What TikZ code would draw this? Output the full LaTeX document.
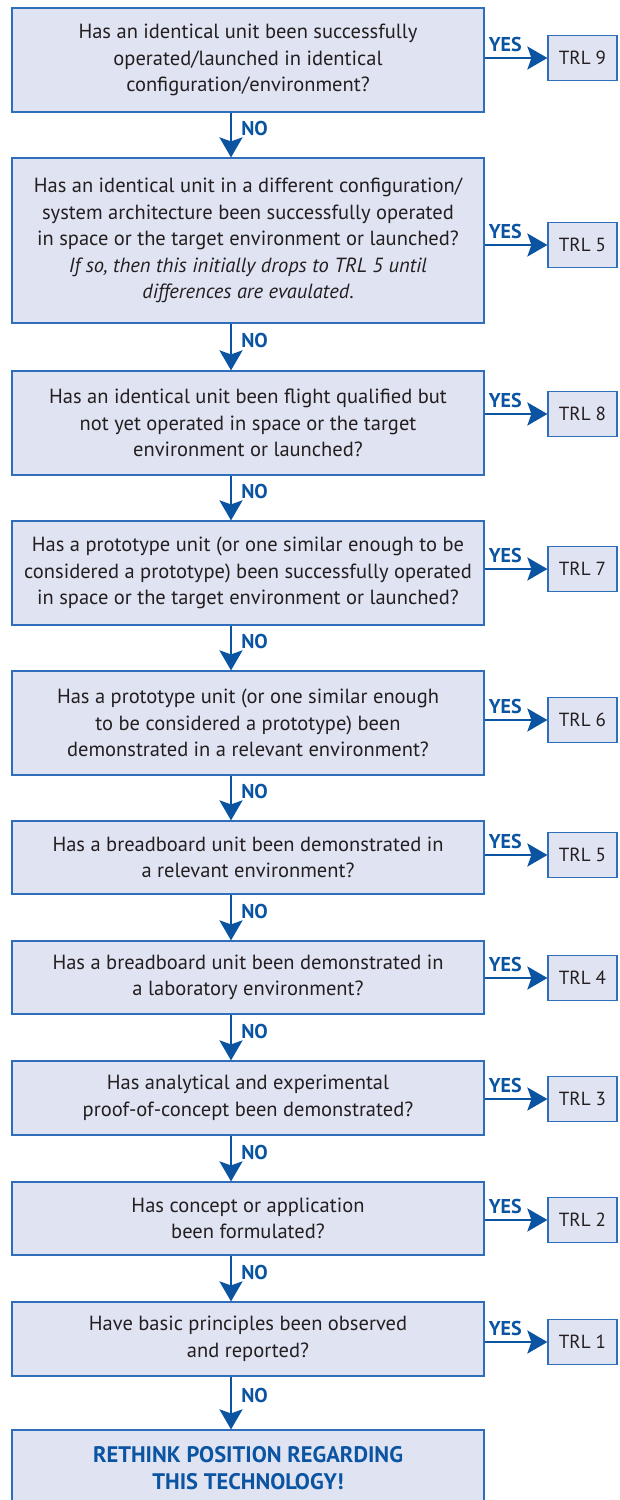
\documentclass[tikz,border=0pt]{standalone}
\usepackage{fontspec}
\setmainfont{PT Sans}
\usepackage{tikz}
\usetikzlibrary{arrows.meta, positioning}
\definecolor{boxfill}{RGB}{224,227,242}
\definecolor{boxline}{RGB}{46,110,186}
\definecolor{flowblue}{RGB}{10,84,162}
\definecolor{textgray}{RGB}{35,31,32}

\tikzset{
  question/.style={draw=boxline, line width=1.2pt, fill=boxfill, minimum width=472pt, align=center, text=textgray, inner sep=0pt, font=\fontsize{20.5}{26.5}\selectfont},
  trlbox/.style={draw=boxline, line width=1.2pt, fill=boxfill, minimum width=69pt, minimum height=45pt, text=textgray, inner sep=0pt, font=\fontsize{19}{20}\selectfont},
  flow/.style={draw=flowblue, line width=2.5pt, -{Stealth[length=20pt, width=23pt, inset=4pt]}},
  answer/.style={text=flowblue, inner sep=0pt, font=\fontsize{20}{20}\selectfont\bfseries},
}

\begin{document}
\begin{tikzpicture}[x=1pt, y=-1pt]
  \useasboundingbox (0,0) rectangle (619,1500);

  % question boxes
  \node[question, minimum height=104pt] (q1) at (248,60) {Has an identical unit been successfully\\operated/launched in identical\\configuration/environment?};
  \node[question, minimum height=165pt] (q2) at (248,240.5) {Has an identical unit in a different configuration/\\system architecture been successfully operated\\in space or the target environment or launched?\\\textit{If so, then this initially drops to TRL 5 until}\\\textit{differences are evaulated}.};
  \node[question, minimum height=104pt] (q3) at (248,423) {Has an identical unit been flight qualified but\\not yet operated in space or the target\\environment or launched?};
  \node[question, minimum height=104pt] (q4) at (248,573) {Has a prototype unit (or one similar enough to be\\considered a prototype) been successfully operated\\in space or the target environment or launched?};
  \node[question, minimum height=104pt] (q5) at (248,723) {Has a prototype unit (or one similar enough\\to be considered a prototype) been\\demonstrated in a relevant environment?};
  \node[question, minimum height=73pt] (q6) at (248,857.5) {Has a breadboard unit been demonstrated in\\a relevant environment?};
  \node[question, minimum height=73pt] (q7) at (248,977.5) {Has a breadboard unit been demonstrated in\\a laboratory environment?};
  \node[question, minimum height=74pt] (q8) at (248,1098) {Has analytical and experimental\\proof-of-concept been demonstrated?};
  \node[question, minimum height=73pt] (q9) at (248,1218.5) {Has concept or application\\been formulated?};
  \node[question, minimum height=74pt] (q10) at (248,1339) {Have basic principles been observed\\and reported?};
  \node[question, minimum height=76pt, text=flowblue, font=\fontsize{22.5}{26.5}\selectfont\bfseries] (rethink) at (248,1468) {RETHINK POSITION REGARDING\\THIS TECHNOLOGY!};

  % TRL boxes
  \node[trlbox] (trl9) at (582.5,58) {TRL 9};
  \node[trlbox] (trl5a) at (582.5,245) {TRL 5};
  \node[trlbox] (trl8) at (582.5,414) {TRL 8};
  \node[trlbox] (trl7) at (582.5,569) {TRL 7};
  \node[trlbox] (trl6) at (582.5,720) {TRL 6};
  \node[trlbox] (trl5b) at (582.5,855) {TRL 5};
  \node[trlbox] (trl4) at (582.5,978) {TRL 4};
  \node[trlbox] (trl3) at (582.5,1099) {TRL 3};
  \node[trlbox] (trl2) at (582.5,1220) {TRL 2};
  \node[trlbox] (trl1) at (582.5,1342) {TRL 1};

  % YES arrows
  \draw[flow] (q1.east |- trl9) -- node[answer, pos=0.33, above=5pt] {YES} (trl9.west);
  \draw[flow] (q2.east |- trl5a) -- node[answer, pos=0.33, above=5pt] {YES} (trl5a.west);
  \draw[flow] (q3.east |- trl8) -- node[answer, pos=0.33, above=5pt] {YES} (trl8.west);
  \draw[flow] (q4.east |- trl7) -- node[answer, pos=0.33, above=5pt] {YES} (trl7.west);
  \draw[flow] (q5.east |- trl6) -- node[answer, pos=0.33, above=5pt] {YES} (trl6.west);
  \draw[flow] (q6.east |- trl5b) -- node[answer, pos=0.33, above=5pt] {YES} (trl5b.west);
  \draw[flow] (q7.east |- trl4) -- node[answer, pos=0.33, above=5pt] {YES} (trl4.west);
  \draw[flow] (q8.east |- trl3) -- node[answer, pos=0.33, above=5pt] {YES} (trl3.west);
  \draw[flow] (q9.east |- trl2) -- node[answer, pos=0.33, above=5pt] {YES} (trl2.west);
  \draw[flow] (q10.east |- trl1) -- node[answer, pos=0.33, above=5pt] {YES} (trl1.west);

  % NO arrows
  \draw[flow] ([xshift=-17pt]q1.south) -- node[answer, pos=0.36, right=9pt] {NO} ([xshift=-17pt]q2.north);
  \draw[flow] ([xshift=-17pt]q2.south) -- node[answer, pos=0.36, right=9pt] {NO} ([xshift=-17pt]q3.north);
  \draw[flow] ([xshift=-17pt]q3.south) -- node[answer, pos=0.36, right=9pt] {NO} ([xshift=-17pt]q4.north);
  \draw[flow] ([xshift=-17pt]q4.south) -- node[answer, pos=0.36, right=9pt] {NO} ([xshift=-17pt]q5.north);
  \draw[flow] ([xshift=-17pt]q5.south) -- node[answer, pos=0.36, right=9pt] {NO} ([xshift=-17pt]q6.north);
  \draw[flow] ([xshift=-17pt]q6.south) -- node[answer, pos=0.36, right=9pt] {NO} ([xshift=-17pt]q7.north);
  \draw[flow] ([xshift=-17pt]q7.south) -- node[answer, pos=0.36, right=9pt] {NO} ([xshift=-17pt]q8.north);
  \draw[flow] ([xshift=-17pt]q8.south) -- node[answer, pos=0.36, right=9pt] {NO} ([xshift=-17pt]q9.north);
  \draw[flow] ([xshift=-17pt]q9.south) -- node[answer, pos=0.36, right=9pt] {NO} ([xshift=-17pt]q10.north);
  \draw[flow] ([xshift=-17pt]q10.south) -- node[answer, pos=0.36, right=9pt] {NO} ([xshift=-17pt]rethink.north);
\end{tikzpicture}
\end{document}
